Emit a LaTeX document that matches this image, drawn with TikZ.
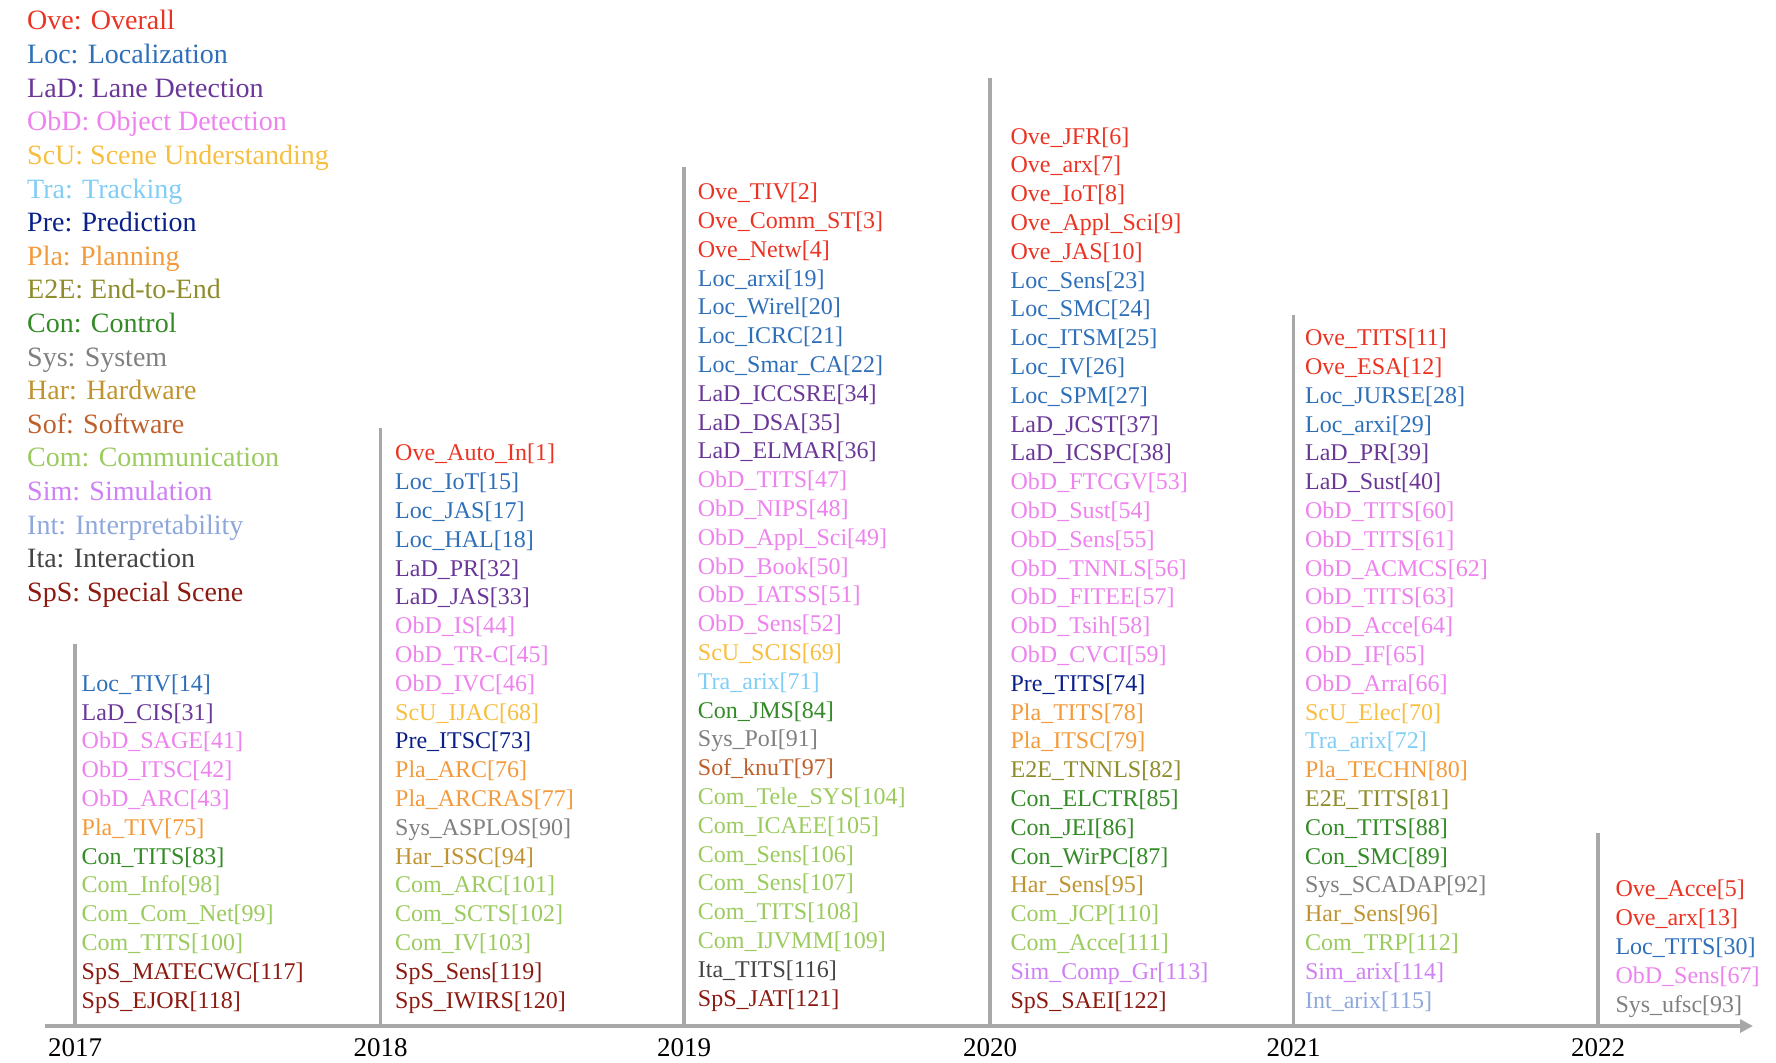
\documentclass[tikz,border=0pt]{standalone}
\usepackage{fontspec}
\setmainfont{Liberation Serif}
\usetikzlibrary{arrows.meta}
\definecolor{cOve}{HTML}{EB3323}
\definecolor{cLoc}{HTML}{2E6FBA}
\definecolor{cLaD}{HTML}{6A3798}
\definecolor{cObD}{HTML}{EE82EE}
\definecolor{cScU}{HTML}{F7BE40}
\definecolor{cTra}{HTML}{80CDF6}
\definecolor{cPre}{HTML}{0A2089}
\definecolor{cPla}{HTML}{F39A3B}
\definecolor{cE2E}{HTML}{8F8C2B}
\definecolor{cCon}{HTML}{338A26}
\definecolor{cSys}{HTML}{808080}
\definecolor{cHar}{HTML}{BF9430}
\definecolor{cSof}{HTML}{BF602B}
\definecolor{cCom}{HTML}{9BCB5E}
\definecolor{cSim}{HTML}{CF80F4}
\definecolor{cInt}{HTML}{8FA8DC}
\definecolor{cIta}{HTML}{444444}
\definecolor{cSpS}{HTML}{8C1A11}
\definecolor{axisgray}{HTML}{A8A8A8}
\newcommand{\yearcol}[4]{%
  \foreach [count=\i] \c/\t in {#4}
    \node[entry,text=c\c] (e#1-\i) at (#2,{#3+3+(\i-1)*28.8}) {\t};}
\begin{document}
\begin{tikzpicture}[x=1pt,y=-1pt,
  entry/.style={anchor=west,inner sep=0pt,text height=17pt,text depth=5pt,font=\fontsize{24}{28}\selectfont},
  legend/.style={anchor=west,inner sep=0pt,text height=20pt,text depth=6pt,font=\fontsize{28}{32}\selectfont},
  yearlab/.style={anchor=base,inner sep=0pt,font=\fontsize{27}{30}\selectfont,text=black},
  vline/.style={draw=axisgray,line width=3.5pt},
  axisline/.style={draw=axisgray,line width=3.5pt,-{Triangle[length=13pt,width=13pt]}}]
\useasboundingbox (0,0) rectangle (1776,1062);
% legend
\foreach [count=\i] \c/\t in {Ove/Ove: Overall, Loc/Loc: Localization, LaD/LaD: Lane Detection,
  ObD/ObD: Object Detection, ScU/ScU: Scene Understanding, Tra/Tra: Tracking,
  Pre/Pre: Prediction, Pla/Pla: Planning, E2E/E2E: End-to-End, Con/Con: Control,
  Sys/Sys: System, Har/Har: Hardware, Sof/Sof: Software, Com/Com: Communication,
  Sim/Sim: Simulation, Int/Int: Interpretability, Ita/Ita: Interaction, SpS/SpS: Special Scene}
  \node[legend,text=c\c] (leg-\i) at (27,{23+(\i-1)*33.6}) {\t};
% axis
\coordinate (axL) at (45,1026);
\coordinate (axR) at (1753,1026);
\draw[axisline] (axL) -- (axR);
% vertical lines and years
\foreach \yr/\x/\top in {2017/75/644, 2018/380.6/428, 2019/684/166.5, 2020/990/78, 2021/1293.6/315, 2022/1598/832.5}{
  \coordinate (t\yr) at (\x,\top);
  \coordinate (b\yr) at (\x,1026);
  \draw[vline] (t\yr) -- (b\yr);
  \node[yearlab] (y\yr) at (\x,1056) {\yr};
}
% columns
\yearcol{2017}{81.5}{682.2}{Loc/Loc\_TIV[14], LaD/LaD\_CIS[31], ObD/ObD\_SAGE[41], ObD/ObD\_ITSC[42], ObD/ObD\_ARC[43], Pla/Pla\_TIV[75], Con/Con\_TITS[83], Com/Com\_Info[98], Com/Com\_Com\_Net[99], Com/Com\_TITS[100], SpS/SpS\_MATECWC[117], SpS/SpS\_EJOR[118]}
\yearcol{2018}{395}{451.8}{Ove/Ove\_Auto\_In[1], Loc/Loc\_IoT[15], Loc/Loc\_JAS[17], Loc/Loc\_HAL[18], LaD/LaD\_PR[32], LaD/LaD\_JAS[33], ObD/ObD\_IS[44], ObD/ObD\_TR-C[45], ObD/ObD\_IVC[46], ScU/ScU\_IJAC[68], Pre/Pre\_ITSC[73], Pla/Pla\_ARC[76], Pla/Pla\_ARCRAS[77], Sys/Sys\_ASPLOS[90], Har/Har\_ISSC[94], Com/Com\_ARC[101], Com/Com\_SCTS[102], Com/Com\_IV[103], SpS/SpS\_Sens[119], SpS/SpS\_IWIRS[120]}
\yearcol{2019}{697.7}{190.6}{Ove/Ove\_TIV[2], Ove/Ove\_Comm\_ST[3], Ove/Ove\_Netw[4], Loc/Loc\_arxi[19], Loc/Loc\_Wirel[20], Loc/Loc\_ICRC[21], Loc/Loc\_Smar\_CA[22], LaD/LaD\_ICCSRE[34], LaD/LaD\_DSA[35], LaD/LaD\_ELMAR[36], ObD/ObD\_TITS[47], ObD/ObD\_NIPS[48], ObD/ObD\_Appl\_Sci[49], ObD/ObD\_Book[50], ObD/ObD\_IATSS[51], ObD/ObD\_Sens[52], ScU/ScU\_SCIS[69], Tra/Tra\_arix[71], Con/Con\_JMS[84], Sys/Sys\_PoI[91], Sof/Sof\_knuT[97], Com/Com\_Tele\_SYS[104], Com/Com\_ICAEE[105], Com/Com\_Sens[106], Com/Com\_Sens[107], Com/Com\_TITS[108], Com/Com\_IJVMM[109], Ita/Ita\_TITS[116], SpS/SpS\_JAT[121]}
\yearcol{2020}{1010.4}{135}{Ove/Ove\_JFR[6], Ove/Ove\_arx[7], Ove/Ove\_IoT[8], Ove/Ove\_Appl\_Sci[9], Ove/Ove\_JAS[10], Loc/Loc\_Sens[23], Loc/Loc\_SMC[24], Loc/Loc\_ITSM[25], Loc/Loc\_IV[26], Loc/Loc\_SPM[27], LaD/LaD\_JCST[37], LaD/LaD\_ICSPC[38], ObD/ObD\_FTCGV[53], ObD/ObD\_Sust[54], ObD/ObD\_Sens[55], ObD/ObD\_TNNLS[56], ObD/ObD\_FITEE[57], ObD/ObD\_Tsih[58], ObD/ObD\_CVCI[59], Pre/Pre\_TITS[74], Pla/Pla\_TITS[78], Pla/Pla\_ITSC[79], E2E/E2E\_TNNLS[82], Con/Con\_ELCTR[85], Con/Con\_JEI[86], Con/Con\_WirPC[87], Har/Har\_Sens[95], Com/Com\_JCP[110], Com/Com\_Acce[111], Sim/Sim\_Comp\_Gr[113], SpS/SpS\_SAEI[122]}
\yearcol{2021}{1304.9}{336.6}{Ove/Ove\_TITS[11], Ove/Ove\_ESA[12], Loc/Loc\_JURSE[28], Loc/Loc\_arxi[29], LaD/LaD\_PR[39], LaD/LaD\_Sust[40], ObD/ObD\_TITS[60], ObD/ObD\_TITS[61], ObD/ObD\_ACMCS[62], ObD/ObD\_TITS[63], ObD/ObD\_Acce[64], ObD/ObD\_IF[65], ObD/ObD\_Arra[66], ScU/ScU\_Elec[70], Tra/Tra\_arix[72], Pla/Pla\_TECHN[80], E2E/E2E\_TITS[81], Con/Con\_TITS[88], Con/Con\_SMC[89], Sys/Sys\_SCADAP[92], Har/Har\_Sens[96], Com/Com\_TRP[112], Sim/Sim\_arix[114], Int/Int\_arix[115]}
\yearcol{2022}{1615.3}{887.8}{Ove/Ove\_Acce[5], Ove/Ove\_arx[13], Loc/Loc\_TITS[30], ObD/ObD\_Sens[67], Sys/Sys\_ufsc[93]}
\end{tikzpicture}
\end{document}
